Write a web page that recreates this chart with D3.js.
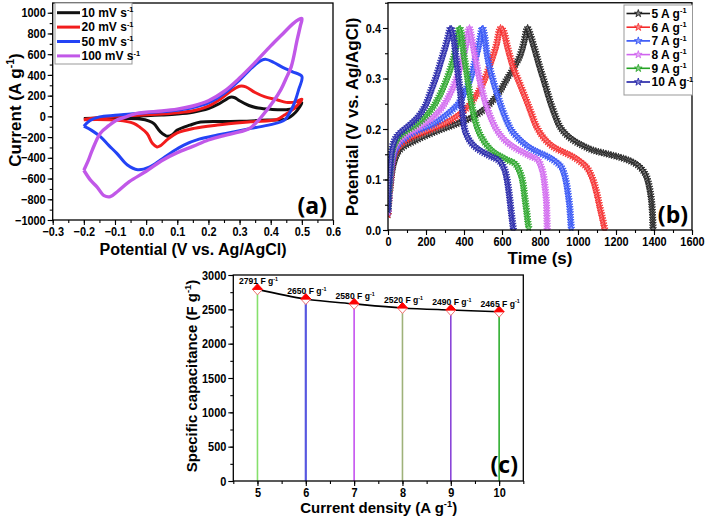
<!DOCTYPE html>
<html><head><meta charset="utf-8">
<script src="https://cdn.jsdelivr.net/npm/d3@7"></script>
<style>body{margin:0;background:#fff}svg{display:block}</style>
</head><body>
<svg id="fig" width="709" height="519"></svg>
<script>
// ---------------- DATA ----------------
// (a) cyclic voltammetry: [potential V, current A/g], anodic then cathodic scan
const cvLabels = ["10", "20", "50", "100"];
const cv10 = [[-0.2,-20],[-0.15,-15],[-0.1,-8],[-0.05,0],[0,5],[0.05,12],[0.1,22],[0.15,40],[0.2,75],[0.23,115],[0.25,150],[0.27,185],[0.285,180],[0.3,150],[0.33,105],[0.36,80],[0.4,68],[0.45,65],[0.48,85],[0.5,130],
  [0.48,40],[0.45,-25],[0.39,-36],[0.3,-48],[0.25,-50],[0.175,-55],[0.14,-85],[0.1,-132],[0.085,-175],[0.068,-192],[0.046,-150],[0.025,-70],[0.01,-45],[-0.02,-25],[-0.1,-22],[-0.2,-22]];
const cv20 = [[-0.2,-30],[-0.15,-12],[-0.1,0],[-0.05,8],[0,15],[0.05,22],[0.1,35],[0.15,55],[0.2,100],[0.24,170],[0.27,240],[0.3,290],[0.32,285],[0.35,230],[0.38,190],[0.42,160],[0.45,135],[0.48,140],[0.5,165],
  [0.48,90],[0.444,13],[0.42,-30],[0.336,-52],[0.229,-84],[0.154,-116],[0.1,-160],[0.07,-220],[0.045,-285],[0.035,-295],[0.02,-260],[0.003,-165],[-0.02,-105],[-0.04,-68],[-0.09,-38],[-0.2,-32]];
const cv50 = [[-0.2,-95],[-0.18,-40],[-0.15,-5],[-0.1,10],[-0.05,22],[0,35],[0.05,45],[0.1,60],[0.15,85],[0.2,130],[0.25,220],[0.3,350],[0.34,470],[0.37,540],[0.385,550],[0.41,520],[0.44,470],[0.47,430],[0.5,385],
  [0.49,260],[0.475,120],[0.46,30],[0.444,-36],[0.4,-80],[0.336,-116],[0.28,-150],[0.229,-180],[0.17,-220],[0.121,-277],[0.08,-350],[0.046,-421],[0.01,-490],[-0.027,-515],[-0.06,-470],[-0.094,-357],[-0.12,-280],[-0.147,-196],[-0.175,-135],[-0.2,-95]];
const cv100 = [[-0.2,-520],[-0.185,-420],[-0.173,-325],[-0.147,-162],[-0.12,-90],[-0.094,-36],[-0.06,0],[-0.03,29],[0,40],[0.05,52],[0.1,70],[0.15,100],[0.2,150],[0.25,240],[0.3,370],[0.35,520],[0.4,680],[0.44,800],[0.47,890],[0.49,935],[0.5,945],
  [0.495,870],[0.485,740],[0.466,480],[0.45,370],[0.433,260],[0.41,150],[0.39,70],[0.36,-40],[0.33,-120],[0.3,-150],[0.25,-185],[0.2,-228],[0.15,-290],[0.1,-350],[0.054,-421],[0,-530],[-0.054,-630],[-0.09,-720],[-0.115,-775],[-0.135,-765],[-0.158,-680],[-0.18,-610],[-0.2,-520]];
const cvSeries = [cv10, cv20, cv50, cv100];
const cvXTicks = [-0.3,-0.2,-0.1,0.0,0.1,0.2,0.3,0.4,0.5,0.6];
const cvYTicks = [-1000,-800,-600,-400,-200,0,200,400,600,800,1000];

// (b) galvanostatic charge-discharge: [time s, potential V]
const gcdLabels = ["5", "6", "7", "8", "9", "10"];
const gcd5 = [[0,0.03],[5,0.06],[12,0.085],[26,0.125],[45,0.148],[61,0.158],[90,0.167],[132,0.175],[200,0.187],[272,0.198],[360,0.21],[447,0.224],[510,0.24],[553,0.257],[590,0.275],[623,0.297],[660,0.32],[693,0.343],[715,0.37],[734,0.4],
  [740,0.396],[770,0.36],[798,0.323],[825,0.29],[851,0.257],[878,0.228],[904,0.205],[935,0.19],[974,0.178],[1025,0.167],[1079,0.158],[1160,0.15],[1237,0.142],[1290,0.134],[1325,0.125],[1345,0.116],[1360,0.106],[1375,0.085],[1386,0.059],[1392,0.03],[1395,0]];
const gcd6 = [[0,0.03],[5,0.06],[12,0.09],[25,0.135],[40,0.155],[60,0.167],[90,0.176],[130,0.185],[190,0.194],[250,0.203],[320,0.215],[380,0.23],[430,0.248],[470,0.27],[505,0.295],[540,0.33],[570,0.365],[593,0.4],
  [605,0.396],[630,0.36],[658,0.323],[693,0.29],[728,0.257],[755,0.23],[781,0.205],[820,0.182],[868,0.165],[920,0.155],[974,0.145],[1010,0.136],[1044,0.125],[1062,0.114],[1079,0.099],[1097,0.075],[1114,0.046],[1130,0.02],[1141,0]];
const gcd7 = [[0,0.035],[5,0.065],[12,0.1],[25,0.14],[40,0.16],[60,0.172],[90,0.182],[120,0.19],[170,0.199],[230,0.208],[280,0.22],[330,0.235],[370,0.25],[400,0.27],[430,0.295],[455,0.33],[478,0.365],[497,0.4],
  [505,0.39],[526,0.337],[550,0.3],[579,0.264],[612,0.228],[649,0.198],[690,0.18],[737,0.165],[790,0.154],[842,0.145],[880,0.136],[912,0.125],[928,0.11],[939,0.092],[948,0.07],[956,0.046],[961,0.02],[965,0]];
const gcd8 = [[0,0.035],[5,0.065],[10,0.1],[22,0.145],[35,0.163],[55,0.175],[80,0.184],[110,0.192],[150,0.2],[200,0.212],[240,0.224],[280,0.24],[310,0.258],[340,0.28],[365,0.305],[390,0.335],[410,0.365],[428,0.4],
  [435,0.39],[465,0.33],[487,0.29],[509,0.257],[535,0.228],[562,0.205],[595,0.186],[632,0.172],[675,0.161],[719,0.152],[755,0.145],[789,0.139],[805,0.126],[816,0.112],[826,0.085],[833,0.059],[836,0.03],[838,0]];
const gcd9 = [[0,0.04],[4,0.07],[10,0.11],[20,0.15],[32,0.168],[50,0.18],[75,0.19],[100,0.197],[135,0.205],[170,0.215],[205,0.228],[240,0.245],[270,0.265],[300,0.29],[325,0.315],[345,0.34],[362,0.37],[377,0.4],
  [385,0.39],[398,0.35],[412,0.317],[425,0.283],[439,0.251],[455,0.222],[474,0.198],[498,0.18],[526,0.165],[560,0.153],[597,0.145],[632,0.138],[667,0.132],[688,0.12],[702,0.106],[712,0.088],[719,0.066],[730,0.035],[737,0.012],[743,0]];
const gcd10 = [[0,0.04],[3,0.08],[10,0.12],[20,0.158],[32,0.175],[45,0.185],[65,0.193],[88,0.2],[120,0.21],[158,0.224],[195,0.245],[228,0.277],[255,0.305],[281,0.337],[300,0.36],[315,0.38],[330,0.4],
  [342,0.387],[360,0.335],[377,0.284],[390,0.24],[404,0.198],[420,0.183],[439,0.172],[470,0.161],[509,0.152],[545,0.145],[579,0.139],[600,0.13],[614,0.119],[624,0.104],[632,0.086],[641,0.06],[649,0.033],[655,0.015],[660,0]];
const gcdSeries = [gcd5, gcd6, gcd7, gcd8, gcd9, gcd10];
const gcdXTicks = [0,200,400,600,800,1000,1200,1400,1600];
const gcdYTicks = [0.0,0.1,0.2,0.3,0.4];

// (c) specific capacitance vs current density
const currentDensity = [5, 6, 7, 8, 9, 10];
const capacitance = [2791, 2650, 2580, 2520, 2490, 2465];
const capYTicks = [0,500,1000,1500,2000,2500,3000];

// ---------------- STYLE ----------------
const cvColors = ["#111111", "#f21c1c", "#2343f5", "#c158e8"];
const gcdColors = ["#1a1a1a", "#f52a2a", "#2e4ff5", "#d064ef", "#24a324", "#1e1ea6"];
const stemColors = ["#86e06c", "#5757e0", "#c552ef", "#9fb27a", "#8a45d8", "#2fae2f"];
const TICKF = "'Liberation Sans',Arial,sans-serif";
const TITLEF = "'Liberation Sans',Arial,sans-serif";

const svg = d3.select("#fig");

function condense(sel, f) {
  sel.each(function () {
    const w = this.getComputedTextLength();
    if (w > 0) d3.select(this).attr("textLength", w * f).attr("lengthAdjust", "spacingAndGlyphs");
  });
}

function frame(x, y, xt, xminor, yt, yminor, xfmt, yfmt) {
  const g = svg.append("g");
  const [x0, x1] = x.range(), [y0, y1] = y.range();
  g.append("g").attr("transform", `translate(0,${y0})`)
    .call(d3.axisBottom(x).tickValues(xt).tickFormat(xfmt).tickSize(5).tickSizeOuter(0).tickPadding(2));
  const mx = g.append("g").attr("transform", `translate(0,${y0})`)
    .call(d3.axisBottom(x).tickValues(xminor).tickSize(3).tickSizeOuter(0));
  mx.selectAll("text").remove();
  g.append("g").attr("transform", `translate(${x0},0)`)
    .call(d3.axisLeft(y).tickValues(yt).tickFormat(yfmt).tickSize(5).tickSizeOuter(0).tickPadding(2));
  const my = g.append("g").attr("transform", `translate(${x0},0)`)
    .call(d3.axisLeft(y).tickValues(yminor).tickSize(3).tickSizeOuter(0));
  my.selectAll("text").remove();
  g.selectAll(".domain").remove();
  g.selectAll(".tick line").attr("stroke", "#000").attr("stroke-width", 1.1);
  const tt = g.selectAll(".tick text").attr("font-family", TICKF).attr("font-weight", "bold").attr("font-size", 13).attr("fill", "#000");
  condense(tt, 0.84);
  g.append("rect").attr("x", x0).attr("y", y1).attr("width", x1 - x0).attr("height", y0 - y1)
    .attr("fill", "none").attr("stroke", "#000").attr("stroke-width", 1.3);
  return g;
}

function supText(sel, main, sup, size) {
  sel.append("tspan").text(main);
  sel.append("tspan").text(sup).attr("font-size", size * 0.62).attr("dy", -size * 0.38);
  return sel;
}
function title(x, y, rot, main, sup, tail, size) {
  const t = svg.append("text").attr("transform", `translate(${x},${y}) rotate(${rot})`)
    .attr("text-anchor", "middle").attr("font-family", TITLEF).attr("font-weight", "bold")
    .attr("font-size", size).attr("fill", "#000");
  t.append("tspan").text(main);
  if (sup) {
    t.append("tspan").text(sup).attr("font-size", size * 0.62).attr("dy", -size * 0.4);
    t.append("tspan").text(tail).attr("dy", size * 0.4);
  }
  return t;
}
function minorTicks(lo, hi, step) { return d3.range(lo, hi + step / 2, step); }

// ---------------- PANEL (a) ----------------
const xa = d3.scaleLinear().domain([-0.3, 0.6]).range([52.7, 333]);
const ya = d3.scaleLinear().domain([-1000, 1094]).range([220, 3]);
svg.append("clipPath").attr("id", "clipA").append("rect").attr("x", 52.7).attr("y", 3).attr("width", 280.3).attr("height", 217);
const lineA = d3.line().x(d => xa(d[0])).y(d => ya(d[1])).curve(d3.curveCatmullRom.alpha(0.5));
const gA = svg.append("g").attr("clip-path", "url(#clipA)");
cvSeries.forEach((s, i) => {
  gA.append("path").datum(s).attr("d", lineA).attr("fill", "none").attr("stroke", cvColors[i])
    .attr("stroke-width", i === 3 ? 3.4 : 3).attr("stroke-linejoin", "round");
});
frame(xa, ya, cvXTicks, minorTicks(-0.3, 0.6, 0.05), cvYTicks, minorTicks(-1000, 1000, 100), d3.format(".1f"), d3.format("d"));
const legA = svg.append("g");
legA.append("rect").attr("x", 55).attr("y", 3).attr("width", 77).attr("height", 61).attr("fill", "#fff").attr("stroke", "#999").attr("stroke-width", 1);
cvLabels.forEach((lab, i) => {
  const yy = 12.7 + i * 14.4;
  legA.append("line").attr("x1", 57).attr("x2", 80).attr("y1", yy).attr("y2", yy).attr("stroke", cvColors[i]).attr("stroke-width", 3);
  const t = legA.append("text").attr("x", 81.5).attr("y", yy + 4.3).attr("font-family", TITLEF).attr("font-weight", "bold").attr("font-size", 12);
  supText(t, lab + " mV s", "-1", 12);
});
title(21, 110, -90, "Current (A g", "-1", ")", 17);
title(193, 254.5, 0, "Potential (V vs. Ag/AgCl)", null, null, 16);
svg.append("text").attr("x", 327).attr("y", 214).attr("text-anchor", "end").attr("font-family", "'Open Sans',sans-serif").attr("font-weight", "bold").attr("font-size", 23).text("(a)");

// ---------------- PANEL (b) ----------------
const xb = d3.scaleLinear().domain([0, 1600]).range([388, 692]);
const yb = d3.scaleLinear().domain([0, 0.45]).range([230, 2.75]);
svg.append("clipPath").attr("id", "clipB").append("rect").attr("x", 388).attr("y", 2.75).attr("width", 304).attr("height", 228);
const lineB = d3.line().x(d => xb(d[0])).y(d => yb(d[1])).curve(d3.curveCatmullRom.alpha(0.5));
const gB = svg.append("g").attr("clip-path", "url(#clipB)");
const star = d3.symbol().type(d3.symbolStar).size(15);
gcdSeries.forEach((s, i) => {
  const col = gcdColors[i];
  const light = d3.interpolateRgb(col, "#ffffff")(0.45);
  const p = gB.append("path").datum(s).attr("d", lineB).attr("fill", "none").attr("stroke", col).attr("stroke-width", 1.2);
  const node = p.node(), L = node.getTotalLength();
  const marks = d3.range(0, L, 2.6).map(l => node.getPointAtLength(l));
  gB.append("g").selectAll("path").data(marks).join("path")
    .attr("transform", d => `translate(${d.x},${d.y})`).attr("d", star)
    .attr("fill", light).attr("stroke", col).attr("stroke-width", 0.8);
});
frame(xb, yb, gcdXTicks, minorTicks(0, 1600, 100), gcdYTicks, minorTicks(0, 0.45, 0.05), d3.format("d"), d3.format(".1f"));
const legB = svg.append("g");
legB.append("rect").attr("x", 624).attr("y", 5).attr("width", 68.5).attr("height", 90).attr("fill", "#fff").attr("stroke", "#999").attr("stroke-width", 1);
gcdLabels.forEach((lab, i) => {
  const yy = 13.5 + i * 13.7, col = gcdColors[i];
  legB.append("line").attr("x1", 626.5).attr("x2", 650).attr("y1", yy).attr("y2", yy).attr("stroke", col).attr("stroke-width", 1.6);
  legB.append("path").attr("transform", `translate(638.3,${yy})`).attr("d", d3.symbol().type(d3.symbolStar).size(18))
    .attr("fill", d3.interpolateRgb(col, "#fff")(0.45)).attr("stroke", col).attr("stroke-width", 0.8);
  const t = legB.append("text").attr("x", 651.5).attr("y", yy + 4.3).attr("font-family", TITLEF).attr("font-weight", "bold").attr("font-size", 12);
  supText(t, lab + " A g", "-1", 12);
});
title(358, 117, -90, "Potential (V vs. Ag/AgCl)", null, null, 17);
title(540, 264, 0, "Time (s)", null, null, 17);
svg.append("text").attr("x", 688).attr("y", 223).attr("text-anchor", "end").attr("font-family", "'Open Sans',sans-serif").attr("font-weight", "bold").attr("font-size", 23).text("(b)");

// ---------------- PANEL (c) ----------------
const xc = d3.scaleLinear().domain([4.5, 10.5]).range([233.3, 523.3]);
const yc = d3.scaleLinear().domain([0, 3000]).range([481, 275]);
const gC = svg.append("g");
currentDensity.forEach((cd, i) => {
  gC.append("line").attr("x1", xc(cd)).attr("x2", xc(cd)).attr("y1", yc(0)).attr("y2", yc(capacitance[i]))
    .attr("stroke", stemColors[i]).attr("stroke-width", i === 1 ? 2.2 : 1.6);
});
const ptsC = currentDensity.map((cd, i) => [cd, capacitance[i]]);
gC.append("path").datum(ptsC).attr("d", d3.line().x(d => xc(d[0])).y(d => yc(d[1])).curve(d3.curveCatmullRom.alpha(0.5)))
  .attr("fill", "none").attr("stroke", "#000").attr("stroke-width", 1.6);
ptsC.forEach(d => {
  const g = gC.append("g").attr("transform", `translate(${xc(d[0])},${yc(d[1])})`);
  g.append("path").attr("d", "M-5,0L0,5.5L5,0Z").attr("fill", "#fff").attr("stroke", "#f07070").attr("stroke-width", 1);
  g.append("path").attr("d", "M-5,0L0,-5.5L5,0Z").attr("fill", "#f00").attr("stroke", "#f00").attr("stroke-width", 1);
  const t = gC.append("text").attr("x", xc(d[0]) + 1).attr("y", yc(d[1]) - 5).attr("text-anchor", "middle")
    .attr("font-family", TICKF).attr("font-weight", "bold").attr("font-size", 8.6).attr("fill", "#000");
  supText(t, d[1] + " F g", "-1", 8.6);
});
frame(xc, yc, currentDensity, minorTicks(4.5, 10.5, 0.5), capYTicks, minorTicks(0, 3000, 250), d3.format("d"), d3.format("d"));
title(197, 376, -90, "Specific capacitance (F g", "-1", ")", 15);
title(378.7, 513, 0, "Current density (A g", "-1", ")", 15);
svg.append("text").attr("x", 518).attr("y", 473).attr("text-anchor", "end").attr("font-family", "'Open Sans',sans-serif").attr("font-weight", "bold").attr("font-size", 23).text("(c)");
</script>
</body></html>
